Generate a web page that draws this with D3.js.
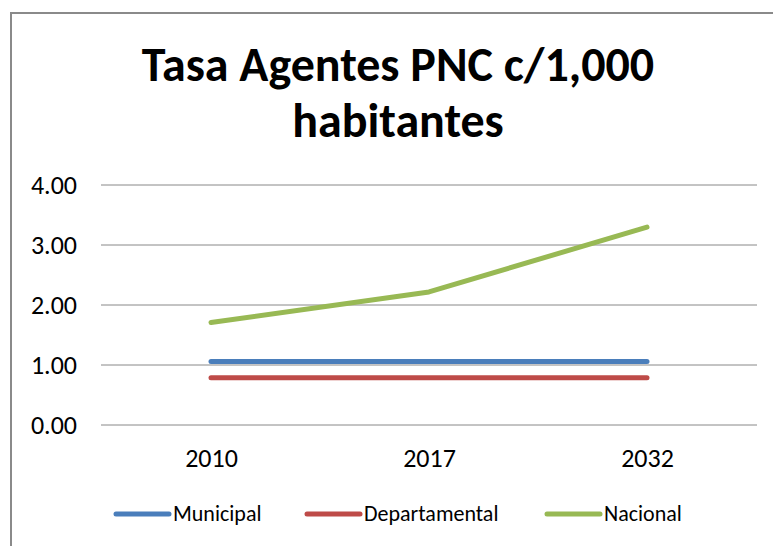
<!DOCTYPE html>
<html>
<head>
<meta charset="utf-8">
<script src="https://cdn.jsdelivr.net/npm/d3@7"></script>
<style>
    body { margin: 0; background: #fff; }
    svg text { font-family: Carlito, "Liberation Sans", Arial, sans-serif; fill: #000; }
</style>
</head>
<body>
<svg id="chart" width="773" height="546"></svg>
<script>
    var categories = ["2010", "2017", "2032"];
    var seriesNames = ["Municipal", "Departamental", "Nacional"];
    var municipal = [1.05, 1.05, 1.05];
    var departamental = [0.78, 0.78, 0.78];
    var nacional = [1.70, 2.21, 3.29];
    var yTicks = [0, 1, 2, 3, 4];
    var titleLines = ["Tasa Agentes PNC c/1,000", "habitantes"];

    var colors = ["#4a7ebb", "#be4b48", "#98b954"];
    var series = [municipal, departamental, nacional];

    var svg = d3.select("#chart");
    var plotLeft = 102, plotRight = 756, plotTop = 184.5, plotBottom = 424.5;

    // chart frame (only left and top edges visible)
    svg.append("line")
        .attr("x1", 11).attr("y1", 13).attr("x2", 11).attr("y2", 546)
        .attr("stroke", "#8a8a8a").attr("stroke-width", 2);
    svg.append("line")
        .attr("x1", 10).attr("y1", 13).attr("x2", 773).attr("y2", 13)
        .attr("stroke", "#8a8a8a").attr("stroke-width", 2);

    svg.selectAll(".title")
        .data(titleLines)
        .enter()
        .append("text")
        .attr("class", "title")
        .attr("x", 398)
        .attr("y", function (d, i) { return 81 + i * 56; })
        .attr("text-anchor", "middle")
        .attr("font-size", "48px")
        .attr("font-weight", "bold")
        .text(function (d) { return d; });

    var xScale = d3.scalePoint()
        .domain(categories)
        .range([plotLeft, plotRight])
        .padding(0.5);

    var yScale = d3.scaleLinear()
        .domain([0, 4])
        .range([plotBottom, plotTop]);

    var yAxis = d3.axisLeft(yScale)
        .tickValues(yTicks)
        .tickSize(-(plotRight - plotLeft + 2))
        .tickPadding(24)
        .tickFormat(d3.format(".2f"));

    var yG = svg.append("g")
        .attr("transform", "translate(" + (plotLeft - 1) + ",0)")
        .call(yAxis);
    yG.select(".domain").remove();
    yG.selectAll(".tick line")
        .attr("stroke", "#888")
        .attr("stroke-width", 1);
    yG.selectAll(".tick text")
        .attr("font-size", "26px")
        .attr("fill", "#000")
        .attr("dy", "0.36em");

    var xAxis = d3.axisBottom(xScale)
        .tickSize(0)
        .tickPadding(24);
    var xG = svg.append("g")
        .attr("transform", "translate(0," + plotBottom + ")")
        .call(xAxis);
    xG.select(".domain").remove();
    xG.selectAll(".tick text")
        .attr("font-size", "26px")
        .attr("fill", "#000");

    var line = d3.line()
        .x(function (d, i) { return xScale(categories[i]); })
        .y(function (d) { return yScale(d); });

    svg.selectAll(".series")
        .data(series)
        .enter()
        .append("path")
        .attr("class", "series")
        .attr("d", line)
        .attr("fill", "none")
        .attr("stroke", function (d, i) { return colors[i]; })
        .attr("stroke-width", 5)
        .attr("stroke-linecap", "round")
        .attr("stroke-linejoin", "round");

    // legend
    var legendX = [116, 307, 547];
    var legend = svg.selectAll(".legend")
        .data(seriesNames)
        .enter()
        .append("g")
        .attr("class", "legend")
        .attr("transform", function (d, i) { return "translate(" + legendX[i] + ",514)"; });
    legend.append("line")
        .attr("x1", 0).attr("x2", 53)
        .attr("stroke", function (d, i) { return colors[i]; })
        .attr("stroke-width", 5)
        .attr("stroke-linecap", "round");
    legend.append("text")
        .attr("x", 57)
        .attr("y", 7)
        .attr("font-size", "22px")
        .text(function (d) { return d; });
</script>
</body>
</html>
